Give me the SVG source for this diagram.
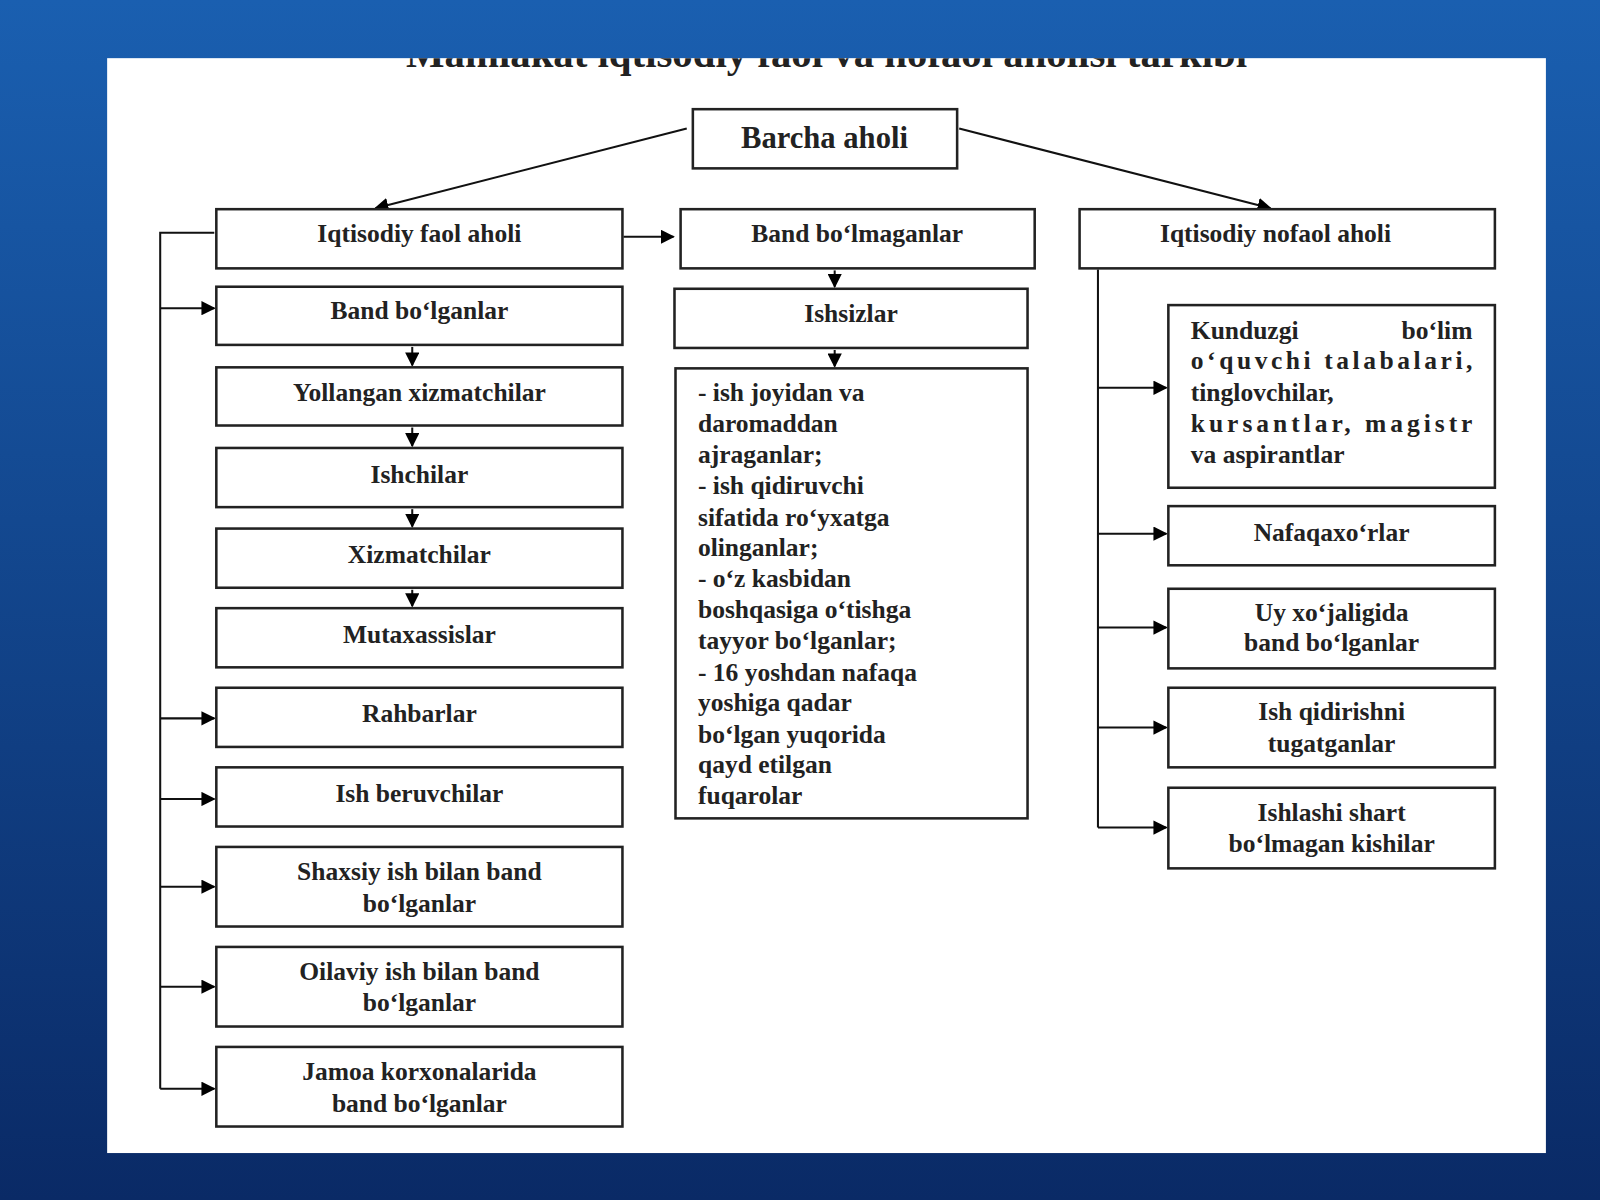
<svg xmlns="http://www.w3.org/2000/svg" width="1600" height="1200" viewBox="0 0 1600 1200">
<defs>
<linearGradient id="bg" x1="0" y1="0" x2="0" y2="1"><stop offset="0" stop-color="#1a5fb0"/><stop offset="1" stop-color="#0a2a66"/></linearGradient>
<marker id="ah" viewBox="0 0 10 10" refX="9" refY="5" markerWidth="7" markerHeight="7" orient="auto"><path d="M0,0 L10,5 L0,10 z" fill="#000"/></marker>
<clipPath id="pc"><rect x="105" y="57" width="1410" height="1073"/></clipPath>
<style>
.b{fill:#fff;stroke:#222;stroke-width:2.5}
.t{font-family:"Liberation Serif",serif;font-size:25px;font-weight:bold;fill:#222;text-anchor:middle}
.l{font-family:"Liberation Serif",serif;font-size:25px;font-weight:bold;fill:#222}
.c{fill:none;stroke:#111;stroke-width:2}
.a{fill:none;stroke:#111;stroke-width:2;marker-end:url(#ah)}
</style>
</defs>
<rect width="1600" height="1200" fill="url(#bg)"/>
<g transform="scale(1.0204)">
<rect x="105" y="57" width="1410" height="1073" fill="#fff"/>
<text x="810" y="66" class="t" style="font-size:40px" clip-path="url(#pc)">Mamlakat iqtisodiy faol va nofaol aholisi tarkibi</text>
<g id="connectors">
<path class="a" d="M673,126 L368,204"/>
<path class="a" d="M940,126 L1245,204"/>
<path class="c" d="M210,228 H157 V1067"/>
<path class="a" d="M157,302 H210"/><path class="a" d="M157,704 H210"/><path class="a" d="M157,783 H210"/>
<path class="a" d="M157,869 H210"/><path class="a" d="M157,967 H210"/><path class="a" d="M157,1067 H210"/>
<path class="a" d="M404,340 V358"/><path class="a" d="M404,419 V437"/><path class="a" d="M404,499 V516"/><path class="a" d="M404,578 V594"/>
<path class="a" d="M611,232 H660"/>
<path class="a" d="M818,265 V281"/><path class="a" d="M818,343 V359"/>
<path class="c" d="M1076,264 V811"/>
<path class="a" d="M1076,380 H1143"/><path class="a" d="M1076,523 H1143"/><path class="a" d="M1076,615 H1143"/><path class="a" d="M1076,713 H1143"/><path class="a" d="M1076,811 H1143"/>
</g>
<g id="n0"><rect class="b" x="679" y="107" width="259" height="58"/><text class="t" x="808" y="145" style="font-size:30px">Barcha aholi</text></g>
<g id="n1"><rect class="b" x="212" y="205" width="398" height="58"/><text class="t" x="411" y="237">Iqtisodiy faol aholi</text></g>
<g id="n2"><rect class="b" x="212" y="281" width="398" height="57"/><text class="t" x="411" y="313">Band bo‘lganlar</text></g>
<g id="n3"><rect class="b" x="212" y="360" width="398" height="57"/><text class="t" x="411" y="393">Yollangan xizmatchilar</text></g>
<g id="n4"><rect class="b" x="212" y="439" width="398" height="58"/><text class="t" x="411" y="473">Ishchilar</text></g>
<g id="n5"><rect class="b" x="212" y="518" width="398" height="58"/><text class="t" x="411" y="552">Xizmatchilar</text></g>
<g id="n6"><rect class="b" x="212" y="596" width="398" height="58"/><text class="t" x="411" y="630">Mutaxassislar</text></g>
<g id="n7"><rect class="b" x="212" y="674" width="398" height="58"/><text class="t" x="411" y="708">Rahbarlar</text></g>
<g id="n8"><rect class="b" x="212" y="752" width="398" height="58"/><text class="t" x="411" y="786">Ish beruvchilar</text></g>
<g id="n9"><rect class="b" x="212" y="830" width="398" height="78"/><text class="t" x="411" y="862">Shaxsiy ish bilan band</text><text class="t" x="411" y="894">bo‘lganlar</text></g>
<g id="n10"><rect class="b" x="212" y="928" width="398" height="78"/><text class="t" x="411" y="960">Oilaviy ish bilan band</text><text class="t" x="411" y="991">bo‘lganlar</text></g>
<g id="n11"><rect class="b" x="212" y="1026" width="398" height="78"/><text class="t" x="411" y="1058">Jamoa korxonalarida</text><text class="t" x="411" y="1090">band bo‘lganlar</text></g>
<g id="n12"><rect class="b" x="667" y="205" width="347" height="58"/><text class="t" x="840" y="237">Band bo‘lmaganlar</text></g>
<g id="n13"><rect class="b" x="661" y="283" width="346" height="58"/><text class="t" x="834" y="316">Ishsizlar</text></g>
<g id="n14"><rect class="b" x="662" y="361" width="345" height="441"/>
<text class="l" x="684" y="393">- ish joyidan va</text><text class="l" x="684" y="423">daromaddan</text><text class="l" x="684" y="454">ajraganlar;</text>
<text class="l" x="684" y="484">- ish qidiruvchi</text><text class="l" x="684" y="515">sifatida ro‘yxatga</text><text class="l" x="684" y="545">olinganlar;</text>
<text class="l" x="684" y="575">- o‘z kasbidan</text><text class="l" x="684" y="606">boshqasiga o‘tishga</text><text class="l" x="684" y="636">tayyor bo‘lganlar;</text>
<text class="l" x="684" y="667">- 16 yoshdan nafaqa</text><text class="l" x="684" y="697">yoshiga qadar</text><text class="l" x="684" y="728">bo‘lgan yuqorida</text>
<text class="l" x="684" y="758">qayd etilgan</text><text class="l" x="684" y="788">fuqarolar</text></g>
<g id="n15"><rect class="b" x="1058" y="205" width="407" height="58"/><text class="t" x="1250" y="237">Iqtisodiy nofaol aholi</text></g>
<g id="n16"><rect class="b" x="1145" y="299" width="320" height="179"/>
<text class="l" x="1167" y="332">Kunduzgi</text><text class="l" x="1443" y="332" style="text-anchor:end">bo‘lim</text>
<text class="l" x="1167" y="362" textLength="276">o‘quvchi talabalari,</text><text class="l" x="1167" y="393">tinglovchilar,</text>
<text class="l" x="1167" y="423" textLength="276">kursantlar, magistr</text><text class="l" x="1167" y="454">va aspirantlar</text></g>
<g id="n17"><rect class="b" x="1145" y="496" width="320" height="58"/><text class="t" x="1305" y="530">Nafaqaxo‘rlar</text></g>
<g id="n18"><rect class="b" x="1145" y="577" width="320" height="78"/><text class="t" x="1305" y="609">Uy xo‘jaligida</text><text class="t" x="1305" y="638">band bo‘lganlar</text></g>
<g id="n19"><rect class="b" x="1145" y="674" width="320" height="78"/><text class="t" x="1305" y="706">Ish qidirishni</text><text class="t" x="1305" y="737">tugatganlar</text></g>
<g id="n20"><rect class="b" x="1145" y="772" width="320" height="79"/><text class="t" x="1305" y="805">Ishlashi shart</text><text class="t" x="1305" y="835">bo‘lmagan kishilar</text></g>
</g>
</svg>
